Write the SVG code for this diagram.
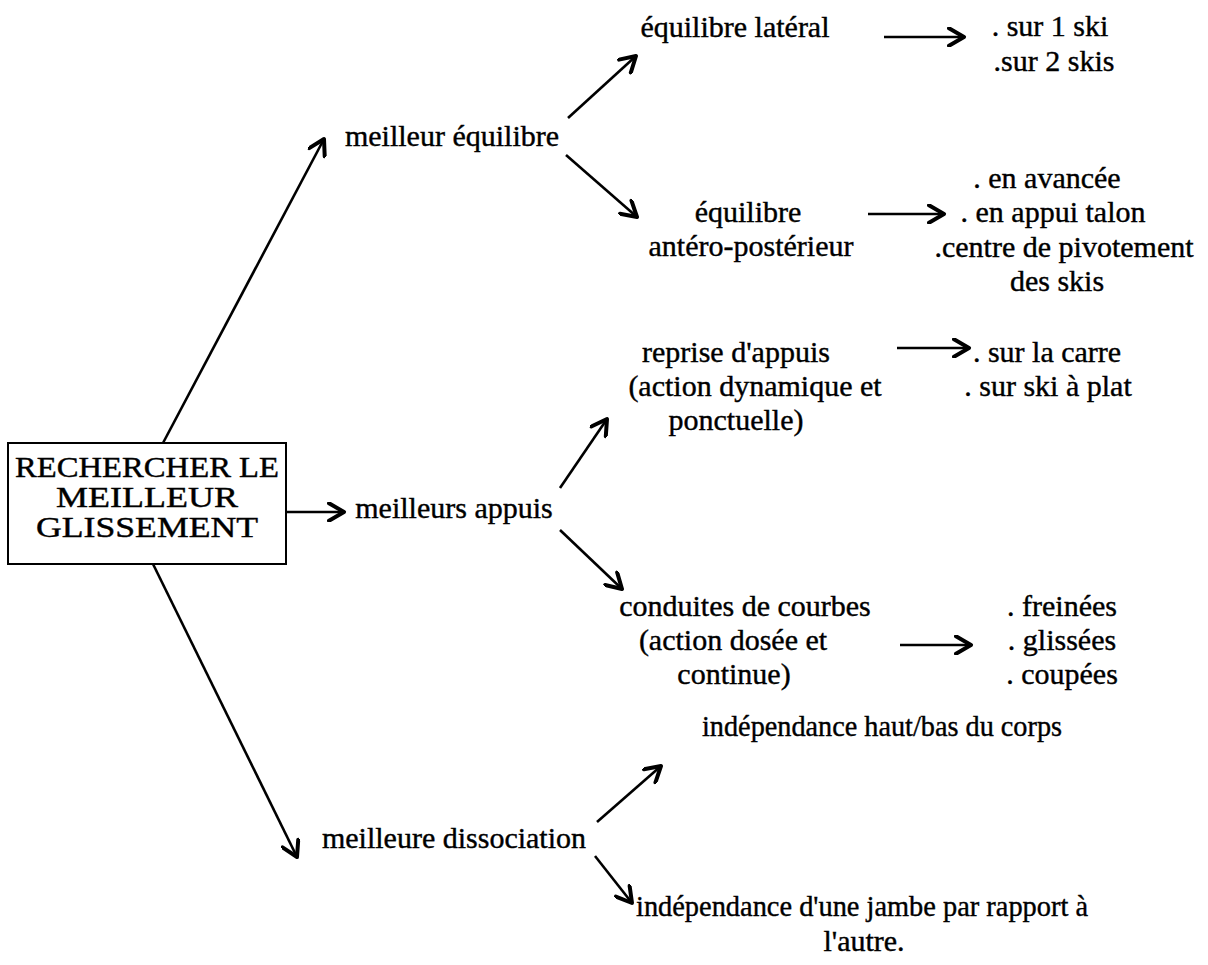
<svg xmlns="http://www.w3.org/2000/svg" width="1208" height="965" viewBox="0 0 1208 965">
<style>
text{font-family:"Liberation Serif","Times New Roman",serif;font-size:30px;fill:#000;stroke:#000;stroke-width:0.4;text-anchor:middle}
.box text{font-size:29px}
.c line{stroke:#000;stroke-width:2.6;fill:none;marker-end:url(#ah)}
</style>
<defs>
<marker id="ah" markerUnits="userSpaceOnUse" markerWidth="20" markerHeight="20" viewBox="-14 -8 16 16" refX="0" refY="0" orient="auto">
<path d="M-12,-7 L0,0 L-12,7" fill="none" stroke="#000" stroke-width="3.2" stroke-linecap="round" stroke-linejoin="round"/>
</marker>
</defs>
<rect width="1208" height="965" fill="#fff"/>
<g class="c" id="connectors">
<line x1="163" y1="443" x2="324" y2="139"/>
<line x1="287" y1="512" x2="344" y2="512"/>
<line x1="153" y1="564" x2="297" y2="857"/>
<line x1="568" y1="118" x2="636" y2="56"/>
<line x1="566" y1="155" x2="637" y2="217"/>
<line x1="884" y1="37" x2="964" y2="37"/>
<line x1="868" y1="214" x2="944" y2="214"/>
<line x1="560" y1="488" x2="607" y2="419"/>
<line x1="560" y1="530" x2="622" y2="589"/>
<line x1="897" y1="348" x2="969" y2="348"/>
<line x1="900" y1="645" x2="971" y2="645"/>
<line x1="597" y1="822" x2="661" y2="766"/>
<line x1="595" y1="856" x2="632" y2="903"/>
</g>
<g class="box" id="root">
<rect x="8" y="443" width="278" height="121" fill="none" stroke="#000" stroke-width="2"/>
<text x="147" y="477" textLength="264" lengthAdjust="spacingAndGlyphs">RECHERCHER LE</text>
<text x="147" y="507" textLength="182" lengthAdjust="spacingAndGlyphs">MEILLEUR</text>
<text x="147" y="537" textLength="222" lengthAdjust="spacingAndGlyphs">GLISSEMENT</text>
</g>
<g id="meilleur-equilibre"><text x="452" y="146">meilleur équilibre</text></g>
<g id="equilibre-lateral"><text x="735" y="37">équilibre latéral</text></g>
<g id="lateral-items"><text x="1050" y="36">. sur 1 ski</text><text x="1054" y="71">.sur 2 skis</text></g>
<g id="equilibre-antero"><text x="748" y="222">équilibre</text><text x="751" y="256">antéro-postérieur</text></g>
<g id="antero-items"><text x="1047" y="188">. en avancée</text><text x="1053" y="222">. en appui talon</text><text x="1064" y="257">.centre de pivotement</text><text x="1057" y="291">des skis</text></g>
<g id="meilleurs-appuis"><text x="454" y="518">meilleurs appuis</text></g>
<g id="reprise"><text x="736" y="362">reprise d'appuis</text><text x="755" y="396">(action dynamique et</text><text x="736" y="430">ponctuelle)</text></g>
<g id="reprise-items"><text x="1047" y="362">. sur la carre</text><text x="1048" y="396">. sur ski à plat</text></g>
<g id="conduites"><text x="745" y="616">conduites de courbes</text><text x="733" y="650">(action dosée et</text><text x="734" y="684">continue)</text></g>
<g id="conduites-items"><text x="1062" y="616">. freinées</text><text x="1062" y="650">. glissées</text><text x="1062" y="684">. coupées</text></g>
<g id="independance-haut-bas"><text x="882" y="736" textLength="360" lengthAdjust="spacingAndGlyphs">indépendance haut/bas du corps</text></g>
<g id="meilleure-dissociation"><text x="454" y="848">meilleure dissociation</text></g>
<g id="independance-jambe"><text x="862" y="916" textLength="452" lengthAdjust="spacingAndGlyphs">indépendance d'une jambe par rapport à</text><text x="864" y="951">l'autre.</text></g>
</svg>
